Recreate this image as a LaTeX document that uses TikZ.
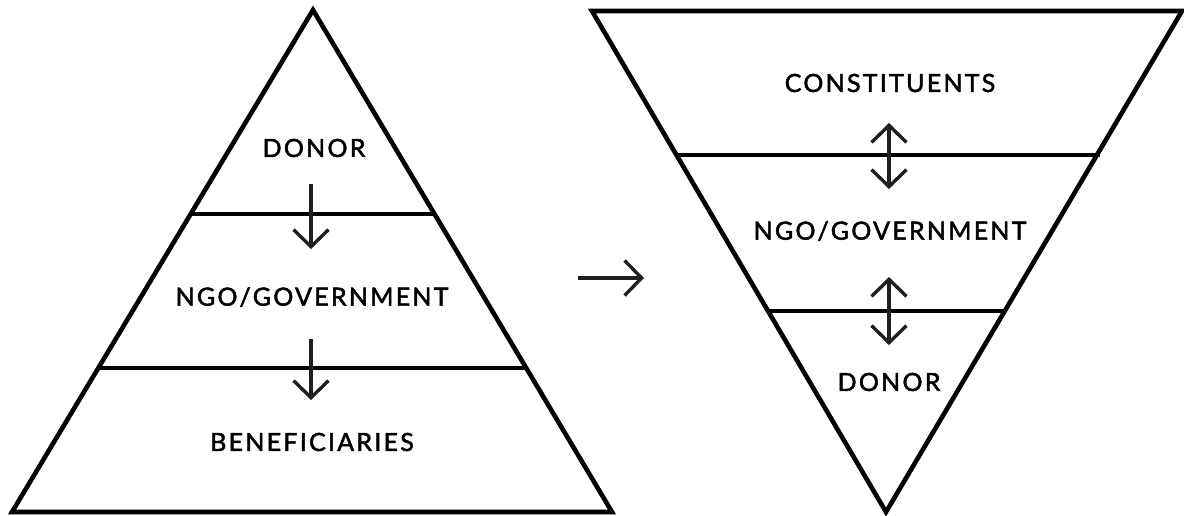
\documentclass[tikz,border=0pt]{standalone}
\usepackage{fontspec}
\setmainfont{Lato}[LetterSpace=9,FakeBold=2]
\usetikzlibrary{arrows.meta}
\begin{document}
\begin{tikzpicture}[x=1pt,y=-1pt,
  tri/.style={line width=4.6pt, line join=miter},
  band/.style={line width=4.6pt},
  lbl/.style={font=\fontsize{25}{29}\selectfont, inner sep=0pt},
  flow/.style={line width=3.4pt, draw=black!88, -{Straight Barb[length=17pt,width=35pt,line width=3.4pt]}},
  both/.style={line width=3.4pt, draw=black!88, {Straight Barb[length=17pt,width=35pt,line width=3.4pt]}-{Straight Barb[length=17pt,width=35pt,line width=3.4pt]}}]
\useasboundingbox (0,0) rectangle (1184,515);
% left pyramid
\coordinate (LA) at (313,10);
\coordinate (LB) at (12,512);
\coordinate (LC) at (612,512);
\draw[tri] (LA) -- (LB) -- (LC) -- cycle;
\coordinate (L1a) at (191,214); \coordinate (L1b) at (435,214);
\coordinate (L2a) at (99,368); \coordinate (L2b) at (527,368);
\draw[band] (L1a) -- (L1b);
\draw[band] (L2a) -- (L2b);
\node[lbl] (ldonor) at (314,148) {DONOR};
\node[lbl] (lngo) at (312,297) {NGO/GOVERNMENT};
\node[lbl] (lben) at (312,442) {BENEFICIARIES};
\coordinate (a1s) at (311,184); \coordinate (a1e) at (311,249);
\coordinate (a2s) at (311,339); \coordinate (a2e) at (311,400);
\draw[flow] (a1s) -- (a1e);
\draw[flow] (a2s) -- (a2e);
% middle arrow
\coordinate (ms) at (578,278); \coordinate (me) at (644,278);
\draw[flow] (ms) -- (me);
% right inverted pyramid
\coordinate (RA) at (592,11);
\coordinate (RB) at (1182,11);
\coordinate (RC) at (886,512);
\draw[tri] (RA) -- (RB) -- (RC) -- cycle;
\coordinate (R1a) at (677,155); \coordinate (R1b) at (1100,155);
\coordinate (R2a) at (769,311); \coordinate (R2b) at (1005,311);
\draw[band] (R1a) -- (R1b);
\draw[band] (R2a) -- (R2b);
\node[lbl] (rcon) at (890,83) {CONSTITUENTS};
\node[lbl] (rngo) at (890,231) {NGO/GOVERNMENT};
\node[lbl] (rdonor) at (889,382) {DONOR};
\coordinate (b1s) at (889,123); \coordinate (b1e) at (889,189);
\coordinate (b2s) at (889,277); \coordinate (b2e) at (889,345);
\draw[both] (b1s) -- (b1e);
\draw[both] (b2s) -- (b2e);
\end{tikzpicture}
\end{document}
